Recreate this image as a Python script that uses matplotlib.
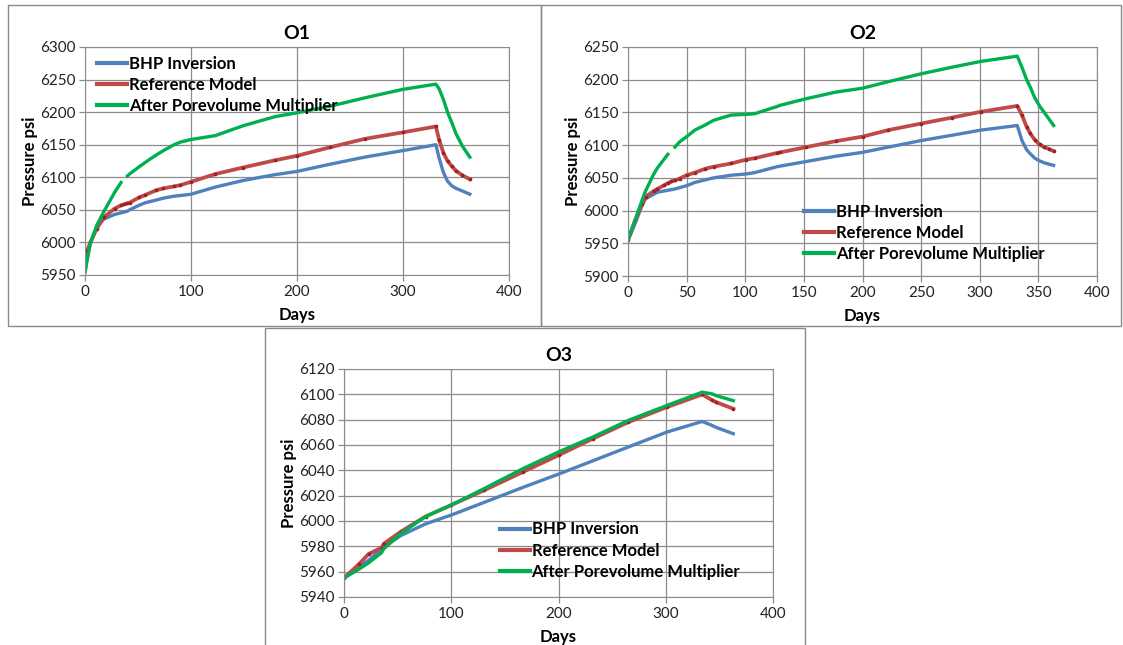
"""
Well pressure histories for observation wells O1, O2 and O3:
BHP inversion vs. reference model vs. porevolume-multiplier run.
"""

import numpy as np
import matplotlib.pyplot as plt
from matplotlib.patches import Rectangle

nan = np.nan

LABELS = ["BHP Inversion", "Reference Model", "After Porevolume Multiplier"]
COLORS = ["#4F81BD", "#BE4B48", "#00B050"]

# --- O1 ---
o1_days = [0, 2, 5, 11, 18, 28, 34, 37, 40, 42, 51, 57, 67, 74, 84, 90, 100,
           123, 149, 179, 200, 231, 264, 300, 331, 334, 338, 342, 346, 350,
           356, 363]
o1_bhp = [5955, 5978, 5998, 6024, 6036, 6043, 6045.5, 6046.5, 6048, 6050,
          6057, 6061, 6065, 6068, 6071, 6072, 6074, 6085, 6095, 6104, 6109,
          6120, 6131, 6141, 6150, 6130, 6108, 6094, 6087, 6083, 6079, 6074]
o1_ref = [5960, 5987, 6000, 6021, 6039, 6052, 6057, 6058.5, 6060, 6061, 6069,
          6073, 6080, 6083, 6086, 6088, 6093, 6105, 6115, 6126, 6133, 6146,
          6159, 6169, 6178, 6158, 6138, 6125, 6117, 6110, 6103, 6097]
o1_pvm = [5955, 5972, 5998, 6026, 6048, 6077, 6092, nan, 6102, 6105, 6116,
          6123, 6134, 6141, 6150, 6154, 6158, 6164, 6179, 6193, 6199, 6209,
          6222, 6235, 6243, 6236, 6220, 6200, 6184, 6167, 6148, 6131]

# --- O2 ---
o2_days = [0, 2, 6, 12, 15, 22, 25, 31, 34, 37, 40, 44, 50, 57, 66, 73, 88,
           101, 108, 127, 130, 152, 177, 200, 222, 250, 276, 301, 332, 336,
           340, 343, 347, 351, 355, 359, 363]
o2_bhp = [5955, 5963, 5980, 6008, 6018, 6025, 6028, 6030, 6031, 6032, 6033,
          6035, 6038, 6043, 6047, 6050, 6054, 6056, 6058, 6067, 6068, 6075,
          6083, 6089, 6097, 6107, 6115, 6123, 6130, 6107, 6093, 6087, 6080,
          6076, 6073, 6071, 6069]
o2_ref = [5955, 5965, 5985, 6010, 6021, 6030, 6033, 6039, 6042, 6044.5, 6046,
          6049, 6054, 6058, 6064, 6067, 6072, 6078, 6080, 6088, 6089, 6097,
          6106, 6113, 6123, 6133, 6142, 6151, 6160, 6146, 6128, 6118, 6108,
          6101, 6097, 6094, 6091]
o2_pvm = [5955, 5965, 5985, 6016, 6030, 6056, 6065, 6079, 6086, nan, 6097,
          6105, 6113, 6123, 6131, 6138, 6146, 6147, 6148, 6159, 6161, 6171,
          6181, 6187, 6197, 6209, 6219, 6228, 6236, 6219, 6200, 6189, 6172,
          6160, 6150, 6140, 6130]

# --- O3 ---
o3_days = [0, 14, 23, 35, 37, 53, 76, 100, 131, 167, 200, 232, 265, 301, 334,
           343, 347, 363]
o3_bhp = [5955, 5963.6, 5969, 5978, 5979.5, 5988.5, 5997.7, 6004.7, 6014.8,
          6026.6, 6037, 6047.5, 6058.4, 6070.2, 6078.6, 6075.5, 6073.9, 6068.9]
o3_ref = [5955, 5966, 5974, 5979, 5982, 5991.6, 6003.5, 6012.6, 6024.4,
          6038.8, 6051.9, 6065, 6078, 6089.9, 6099.9, 6095.5, 6093.8, 6088.6]
o3_pvm = [5955, 5962, 5967, 5975, 5978, 5990, 6003.5, 6012.6, 6025.7, 6041.4,
          6054.5, 6066.3, 6079.4, 6091.2, 6101.7, 6100.4, 6099, 6095]

W, H = 1123, 645
plt.rcParams["font.family"] = ["Lato", "DejaVu Sans"]

fig = plt.figure(figsize=(W / 100, H / 100), dpi=100)


def px_rect(x0, y0, x1, y1):
    """left, bottom, width, height in figure fraction from pixel box"""
    return [x0 / W, 1 - y1 / H, (x1 - x0) / W, (y1 - y0) / H]


# chart-area frames
for x0, y0, x1, y1 in [(8, 5, 541, 326), (541, 5, 1121, 326), (265, 328, 805, 660)]:
    l, b, w, h = px_rect(x0, y0, x1, y1)
    fig.add_artist(Rectangle((l, b), w, h, transform=fig.transFigure,
                             fill=False, edgecolor="#8a8a8a", lw=1.0))

panels = [
    dict(title="O1", box=(85, 47, 509, 275), days=o1_days,
         series=[o1_bhp, o1_ref, o1_pvm], ylim=(5950, 6300), ystep=50,
         xticks=np.arange(0, 401, 100), leg=(0.005, 1.005)),
    dict(title="O2", box=(628, 47, 1097, 276), days=o2_days,
         series=[o2_bhp, o2_ref, o2_pvm], ylim=(5900, 6250), ystep=50,
         xticks=np.arange(0, 401, 50), leg=(0.355, 0.36)),
    dict(title="O3", box=(344, 369, 773, 597), days=o3_days,
         series=[o3_bhp, o3_ref, o3_pvm], ylim=(5940, 6120), ystep=20,
         xticks=np.arange(0, 401, 100), leg=(0.34, 0.375)),
]

for p in panels:
    ax = fig.add_axes(px_rect(*p["box"]))
    for vals, lab, col in zip(p["series"], LABELS, COLORS):
        if lab == "Reference Model":
            ax.plot(p["days"], vals, color=col, lw=2.7, label=lab,
                    marker="o", ms=1.6, mec="#A02020", mfc="#A02020")
        else:
            ax.plot(p["days"], vals, color=col, lw=2.4, label=lab)

    ax.set_xlim(0, 400)
    ax.set_ylim(*p["ylim"])
    ax.set_xticks(p["xticks"])
    ax.set_yticks(np.arange(p["ylim"][0], p["ylim"][1] + 1, p["ystep"]))
    ax.grid(True, color="#8c8c8c", lw=0.9)
    ax.set_axisbelow(True)
    for s in ax.spines.values():
        s.set_color("#8c8c8c")
    ax.tick_params(direction="out", length=4, width=0.9, color="#8c8c8c",
                   labelsize=11, labelcolor="#222222", pad=3)

    ax.set_title(p["title"], fontsize=14, fontweight="bold", pad=6)
    ax.set_xlabel("Days", fontsize=12, fontweight="bold", labelpad=6)
    ax.set_ylabel("Pressure psi", fontsize=12, fontweight="bold", labelpad=1)

    leg = ax.legend(loc="upper left", bbox_to_anchor=p["leg"], frameon=False,
                    handlelength=1.8, handletextpad=0.1, labelspacing=0.3,
                    borderaxespad=0.2, prop={"weight": "bold", "size": 12})
    for h in leg.get_lines():
        h.set_linewidth(3)
        h.set_markersize(0)

fig.savefig("out.png", dpi=100)
